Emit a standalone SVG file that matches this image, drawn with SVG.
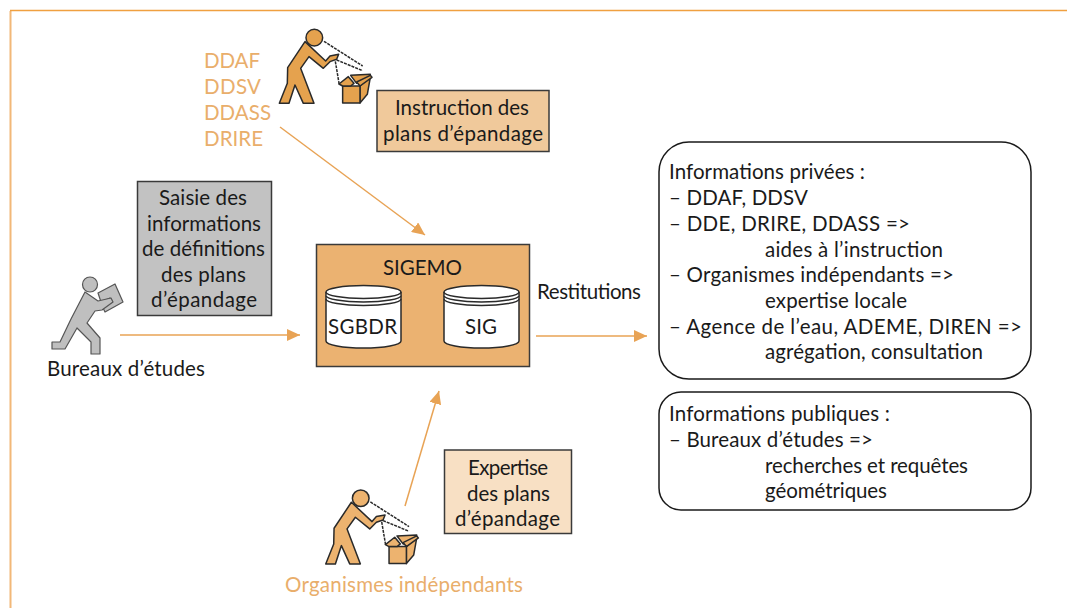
<svg xmlns="http://www.w3.org/2000/svg" width="1067" height="608" viewBox="0 0 1067 608">
<style>
text{font-family:"Lato","Open Sans","Liberation Sans",sans-serif;font-size:20.500px;fill:#1a1a1a}
.o{fill:#E9AE6B}
.box{stroke:#3a3a3a;stroke-width:1.5}
.cyl{fill:#fff;stroke:#2a2a2a;stroke-width:1.5}
.rb{fill:#fff;stroke:#1a1a1a;stroke-width:1.5}
.c{stroke:#E8A355;stroke-width:1.5;fill:none;marker-end:url(#a)}
.fig{stroke:#2a2a2a;stroke-width:4.500;stroke-linejoin:round}
.dash{fill:none;stroke:#2a2a2a;stroke-width:4.500;stroke-dasharray:9 3}
</style>
<defs>
<marker id="a" markerUnits="userSpaceOnUse" markerWidth="14" markerHeight="12" refX="13" refY="6" orient="auto"><path d="M0,0L13,6L0,12z" fill="#E8A355"/></marker>
<g id="worker">
<path class="dash" d="M402,124L518,198M440,180L518,212M436,184L448,255"/>
<circle class="fig" cx="373" cy="113" r="25"/>
<path class="fig" d="M345,125L407,183L420,168L446,163L440,178L420,185L400,205L357,170L332,205L372,310L340,310L315,255L297,310L268,310L292,250L293,203z"/>
<path class="fig" d="M482,226L541,223L533,250L500,250z"/>
<path class="fig" d="M510,258L541,232L532,283L510,309z"/>
<path class="fig" d="M458,258H510V309H458z"/>
<path class="fig" d="M447,252L475,230L492,250L482,258H458z"/>
<path class="fig" d="M510,258L500,246L541,226L546,232z"/>
</g>
</defs>
<g id="frame" fill="none">
<path d="M10.500,608V11" stroke="#F2B878" stroke-width="2"/>
<path d="M10,10.500H1067" stroke="#F0A040" stroke-width="1.600"/>
</g>
<g id="connectors">
<path class="c" d="M280,127L425,235"/>
<path class="c" d="M120,335H300"/>
<path class="c" d="M536,336H647"/>
<path class="c" d="M405,506L439,391"/>
</g>
<g id="ddaf-group">
<g transform="translate(190,0) scale(.3333)" fill="#E5A24E"><use href="#worker"/></g>
<text class="o" x="204" y="67.500" textLength="56">DDAF</text>
<text class="o" x="204" y="93.500" textLength="57">DDSV</text>
<text class="o" x="204" y="119.500" textLength="67">DDASS</text>
<text class="o" x="204" y="145.500" textLength="59">DRIRE</text>
</g>
<g id="instruction">
<rect class="box" x="377" y="90.500" width="172" height="61" fill="#F0C99B"/>
<text x="395" y="114.500" textLength="134">Instruction des</text>
<text x="383" y="140.500" textLength="160">plans d’épandage</text>
</g>
<g id="saisie">
<rect class="box" x="137.500" y="181.500" width="134" height="134" fill="#C2C2C2"/>
<text x="159" y="204.500" textLength="88">Saisie des</text>
<text x="147" y="230.500" textLength="114">informations</text>
<text x="142" y="255.500" textLength="123">de définitions</text>
<text x="161" y="281.500" textLength="85">des plans</text>
<text x="151" y="306.500" textLength="106">d’épandage</text>
</g>
<g id="bureaux">
<path d="M98,293L115,284L123,302L105,312L103,308L112,302L110,298L101,302z" fill="#BFBFBF" stroke="#555" stroke-width="1.200" stroke-linejoin="round"/>
<circle cx="90" cy="284.500" r="7.500" fill="#BFBFBF" stroke="#555" stroke-width="1.200"/>
<path d="M85,292L98,301L111,298L113,302L102,310L95,311L87,323L100,338L100,354L91,354L91,342L77,328L65,349L52,349L52,342L60,342L71,319z" fill="#BFBFBF" stroke="#555" stroke-width="1.200" stroke-linejoin="round"/>
<text x="47" y="375.500" textLength="158">Bureaux d’études</text>
</g>
<g id="sigemo">
<rect class="box" x="316.500" y="244.500" width="213" height="122" fill="#EBB271"/>
<text x="383" y="274.500" textLength="79">SIGEMO</text>
<g id="sgbdr">
<path class="cyl" d="M326,292A37.500,6.500 0 0 1 401,292V341A37.500,7 0 0 1 326,341z"/>
<path class="cyl" d="M326,292A37.500,6.500 0 0 0 401,292M326,295.500A37.500,6.500 0 0 0 401,295.500M326,299A37.500,6.500 0 0 0 401,299"/>
<text x="328" y="333.500" textLength="69">SGBDR</text>
</g>
<g id="sig">
<path class="cyl" d="M444,292A37.500,6.500 0 0 1 519,292V341A37.500,7 0 0 1 444,341z"/>
<path class="cyl" d="M444,292A37.500,6.500 0 0 0 519,292M444,295.500A37.500,6.500 0 0 0 519,295.500M444,299A37.500,6.500 0 0 0 519,299"/>
<text x="465" y="333.500" textLength="32">SIG</text>
</g>
</g>
<text id="restitutions" x="537" y="298.500" textLength="104">Restitutions</text>
<g id="expertise">
<rect class="box" x="444.500" y="450" width="127" height="83.500" fill="#F8E0C4"/>
<text x="468" y="474.500" textLength="80">Expertise</text>
<text x="467" y="500.500" textLength="83">des plans</text>
<text x="455" y="525.500" textLength="105">d’épandage</text>
</g>
<g id="organismes">
<g transform="translate(236.400,460.600) scale(.3333)" fill="#EDB36F"><use href="#worker"/></g>
<text class="o" x="285" y="591.500" textLength="238">Organismes indépendants</text>
</g>
<g id="privees">
<rect class="rb" x="659" y="142" width="372" height="237" rx="30"/>
<text x="669" y="178.500" textLength="196">Informations privées :</text>
<text x="669" y="204.500" textLength="139">– DDAF, DDSV</text>
<text x="669" y="230.500" textLength="241">– DDE, DRIRE, DDASS =&gt;</text>
<text x="765" y="256.500" textLength="178">aides à l’instruction</text>
<text x="669" y="281.500" textLength="285">– Organismes indépendants =&gt;</text>
<text x="765" y="307.500" textLength="142">expertise locale</text>
<text x="669" y="333.500" textLength="353">– Agence de l’eau, ADEME, DIREN =&gt;</text>
<text x="765" y="358.500" textLength="218">agrégation, consultation</text>
</g>
<g id="publiques">
<rect class="rb" x="659" y="392" width="372" height="118" rx="22"/>
<text x="669" y="420.500" textLength="221">Informations publiques :</text>
<text x="669" y="446.500" textLength="204">– Bureaux d’études =&gt;</text>
<text x="765" y="472.500" textLength="203">recherches et requêtes</text>
<text x="765" y="497.500" textLength="122">géométriques</text>
</g>
</svg>
